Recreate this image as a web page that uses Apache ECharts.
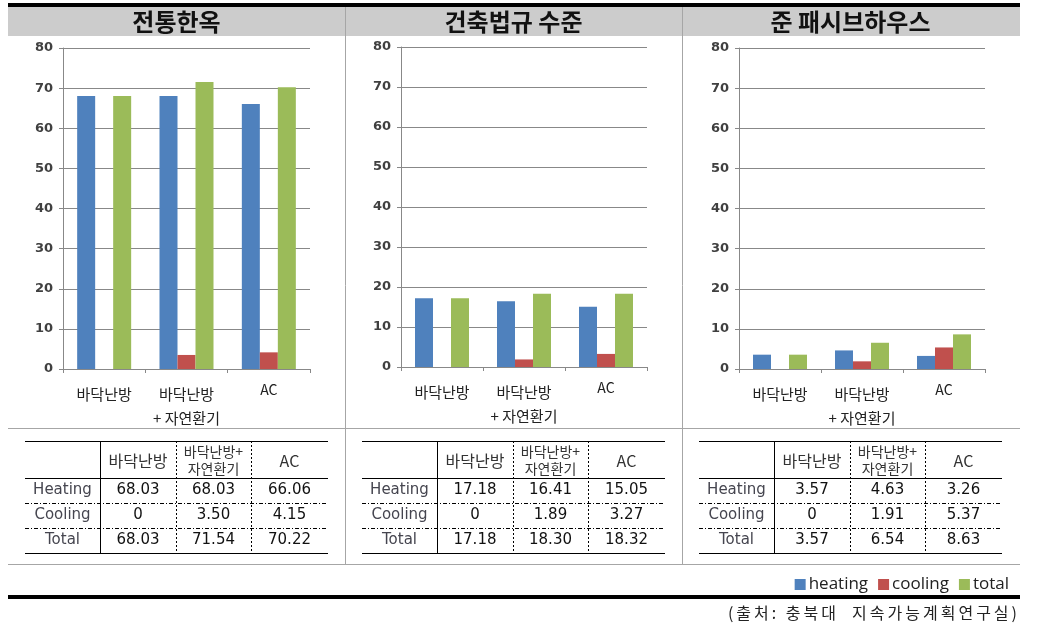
<!DOCTYPE html>
<html><head><meta charset="utf-8">
<script src="https://cdn.jsdelivr.net/npm/echarts@6/dist/echarts.min.js"></script>
<style>
html,body{margin:0;padding:0;background:#fff}
#wrap{position:relative;width:1042px;height:637px}
#c{width:1042px;height:637px}
#src{position:absolute;right:22px;top:601px;font:16px "Noto Sans CJK KR","Noto Sans",sans-serif;color:#222;letter-spacing:3px;white-space:pre;line-height:22px}
</style>
</head><body><div id="wrap"><div id="c"></div><div id="src"></div></div>
<script>
// ---- data ----
const panelTitles = ['전통한옥', '건축법규 수준', '준 패시브하우스'];
const categories = ['바닥난방', '바닥난방\n+ 자연환기', 'AC'];
const tableHeaders = ['바닥난방', '바닥난방+\n자연환기', 'AC'];
const rowLabels = ['Heating', 'Cooling', 'Total'];
const seriesNames = ['heating', 'cooling', 'total'];
const heating = [[68.03, 68.03, 66.06], [17.18, 16.41, 15.05], [3.57, 4.63, 3.26]];
const cooling = [[0, 3.50, 4.15], [0, 1.89, 3.27], [0, 1.91, 5.37]];
const total = [[68.03, 71.54, 70.22], [17.18, 18.30, 18.32], [3.57, 6.54, 8.63]];
const yMin = 0, yMax = 80, yStep = 10;
const sourceText = '(출처: 충북대  지속가능계획연구실)';

// ---- layout / style ----
const colors = ['#4F81BD', '#C0504D', '#9BBB59'];
const panelX = [8, 345, 682];
const panelW = 337;
const gridLeft = [63, 401, 739];
const gridTop = [48, 47, 48];
const gridW = [247, 246, 246];
const gridH = [321, 320, 321];
const tableX = [25, 362, 699];
const colOff = [0, 75, 151, 226, 303];
const rowY = [441, 478, 503, 528, 553];
const axisGray = '#888888';
const frameGray = '#a6a6a6';
const KR = '"Noto Sans CJK KR","Noto Sans",sans-serif';
const NUM = '"DejaVu Sans",sans-serif';

document.getElementById('src').textContent = sourceText;

const allSeries = [heating, cooling, total];
const fmt = v => v === 0 ? '0' : v.toFixed(2);

const grids = [], xAxes = [], yAxes = [], series = [], graphics = [];

// frame
graphics.push({type: 'rect', shape: {x: 8, y: 3, width: 1012, height: 4}, style: {fill: '#000'}, silent: true});
graphics.push({type: 'rect', shape: {x: 8, y: 7, width: 1012, height: 29}, style: {fill: '#cccccc'}, silent: true});
[345, 682].forEach(x => graphics.push({type: 'line', shape: {x1: x + 0.5, y1: 7, x2: x + 0.5, y2: 564}, style: {stroke: frameGray, lineWidth: 1}, silent: true}));
[428, 564].forEach(y => graphics.push({type: 'line', shape: {x1: 8, y1: y + 0.5, x2: 1020, y2: y + 0.5}, style: {stroke: frameGray, lineWidth: 1}, silent: true}));
graphics.push({type: 'rect', shape: {x: 8, y: 595, width: 1012, height: 4}, style: {fill: '#000'}, silent: true});

for (let p = 0; p < 3; p++) {
  graphics.push({type: 'text', style: {text: panelTitles[p], x: panelX[p] + panelW / 2, y: 22, align: 'center', verticalAlign: 'middle', fontSize: 24, fontWeight: 'bold', fontFamily: KR, fill: '#111'}, silent: true});

  grids.push({left: gridLeft[p], top: gridTop[p], width: gridW[p], height: gridH[p], containLabel: false});
  xAxes.push({
    type: 'category', gridIndex: p,
    data: categories.map(c => c === 'AC' ? {value: c, textStyle: {lineHeight: 16, fontSize: 14}} : c),
    axisLine: {lineStyle: {color: axisGray, width: 1}},
    axisTick: {show: true, length: 4, lineStyle: {color: axisGray}},
    axisLabel: {margin: 13, fontSize: 15, fontFamily: KR, color: '#222', lineHeight: 24, verticalAlign: 'top', interval: 0}
  });
  yAxes.push({
    type: 'value', gridIndex: p, min: yMin, max: yMax, interval: yStep,
    axisLine: {show: true, lineStyle: {color: axisGray, width: 1}},
    axisTick: {show: true, length: 4, lineStyle: {color: axisGray}},
    splitLine: {lineStyle: {color: axisGray, width: 1}},
    axisLabel: {margin: 10, fontSize: 13, fontWeight: 'bold', fontFamily: NUM, color: '#404040'}
  });
  for (let s = 0; s < 3; s++) {
    series.push({
      name: seriesNames[s], type: 'bar', xAxisIndex: p, yAxisIndex: p,
      data: allSeries[s][p], barWidth: 18, barGap: '0%',
      itemStyle: {color: colors[s]}, emphasis: {disabled: true}, animation: false
    });
  }

  const tx = tableX[p];
  const xs = colOff.map(o => tx + o);
  rowY.forEach((y, i) => {
    const solid = (i === 0 || i === 1 || i === rowY.length - 1);
    graphics.push({type: 'line', shape: {x1: xs[0], y1: y + 0.5, x2: xs[4], y2: y + 0.5},
      style: {stroke: '#000', lineWidth: 1, lineDash: solid ? null : [4, 2, 1, 2]}, silent: true});
  });
  for (let c = 1; c <= 3; c++) {
    graphics.push({type: 'line', shape: {x1: xs[c] + 0.5, y1: rowY[0], x2: xs[c] + 0.5, y2: rowY[4]},
      style: {stroke: '#000', lineWidth: 1, lineDash: c === 1 ? null : [2, 2]}, silent: true});
  }
  for (let c = 0; c < 3; c++) {
    const h = tableHeaders[c];
    const multi = h.indexOf('\n') >= 0;
    graphics.push({type: 'text', style: {text: h, x: (xs[c + 1] + xs[c + 2]) / 2, y: (rowY[0] + rowY[1]) / 2 + 1,
      align: 'center', verticalAlign: 'middle', fontSize: multi ? 14 : 16, lineHeight: multi ? 17 : 18, fontFamily: KR, fill: '#333'}, silent: true});
  }
  for (let r = 0; r < 3; r++) {
    const cy = (rowY[r + 1] + rowY[r + 2]) / 2;
    graphics.push({type: 'text', style: {text: rowLabels[r], x: (xs[0] + xs[1]) / 2, y: cy,
      align: 'center', verticalAlign: 'middle', fontSize: 15, fontFamily: NUM, fill: '#45454f'}, silent: true});
    for (let c = 0; c < 3; c++) {
      graphics.push({type: 'text', style: {text: fmt(allSeries[r][p][c]), x: (xs[c + 1] + xs[c + 2]) / 2, y: cy,
        align: 'center', verticalAlign: 'middle', fontSize: 15, fontFamily: NUM, fill: '#111'}, silent: true});
    }
  }
}

const chart = echarts.init(document.getElementById('c'), null, {renderer: 'canvas'});
chart.setOption({
  animation: false,
  backgroundColor: '#fff',
  grid: grids, xAxis: xAxes, yAxis: yAxes, series: series,
  legend: {
    data: seriesNames, right: 28, top: 571, icon: 'rect', itemWidth: 11, itemHeight: 11, itemGap: 10,
    textStyle: {fontSize: 17, fontFamily: '"Open Sans",sans-serif', color: '#222', padding: [0, 0, 0, -2]},
    selectedMode: false
  },
  graphic: graphics
});
</script></body></html>
